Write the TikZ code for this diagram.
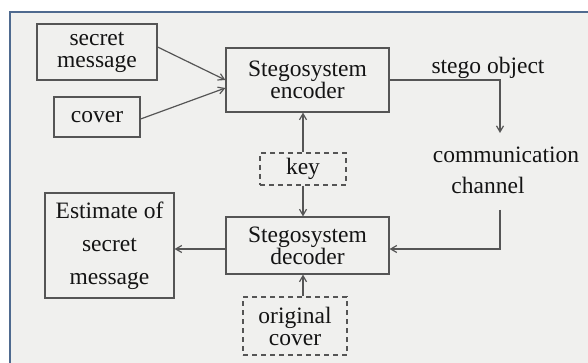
\documentclass[tikz,border=0pt]{standalone}
\usepackage{fontspec}
\setmainfont{Liberation Serif}
\usetikzlibrary{arrows.meta}
\definecolor{bgc}{HTML}{F0F0EE}
\definecolor{framec}{HTML}{4F6A8F}
\definecolor{linec}{HTML}{555555}
\definecolor{textc}{HTML}{141414}
\begin{document}
\begin{tikzpicture}[x=1pt,y=-1pt,
  box/.style={draw=linec,line width=1.2pt,text=textc,align=center,inner sep=0pt,font=\fontsize{23.5}{22}\selectfont},
  dbox/.style={box,dash pattern=on 5pt off 4pt},
  lbl/.style={text=textc,font=\fontsize{23.5}{22}\selectfont,inner sep=0pt},
  arr/.style={draw=linec,line width=1.2pt,-{Straight Barb[length=6pt,width=7pt]}},
  wire/.style={draw=linec,line width=1.2pt}]
\useasboundingbox (0,0) rectangle (588,363);
\fill[white] (0,0) rectangle (588,363);
\fill[bgc] (10,12) rectangle (588,363);
\draw[framec,line width=2pt] (10,363) -- (10,12) -- (588,12);

\node[box,minimum width=120pt,minimum height=56pt] (sec) at (97,52) {secret\\message};
\node[box,minimum width=86pt,minimum height=40pt] (cov) at (97,117) {cover};
\node[box,minimum width=163pt,minimum height=64pt] (enc) at (307.5,80) {Stegosystem\\encoder};
\node[dbox,minimum width=86pt,minimum height=32pt] (key) at (303,169) {key};
\node[box,minimum width=163pt,minimum height=57pt] (dec) at (307.5,245.5) {Stegosystem\\decoder};
\node[box,minimum width=129pt,minimum height=105pt,font=\fontsize{23.5}{33}\selectfont] (est) at (109.5,245.5) {Estimate of\\secret\\message};
\node[dbox,minimum width=104pt,minimum height=58pt] (orig) at (295,326) {original\\cover};
\node[lbl,anchor=base] (so) at (488,74) {stego object};
\node[lbl,anchor=base] (comm) at (506,163) {communication};
\node[lbl,anchor=base] (chan) at (488,194) {channel};

\coordinate (c1) at (500,80);
\coordinate (c2) at (500,133);
\coordinate (c3) at (500,210);
\coordinate (c4) at (500,249);

\draw[arr] ([yshift=5pt]sec.east) -- (enc.west);
\draw[arr] ([yshift=-2pt]cov.east) -- ([yshift=-8pt]enc.west);
\draw[arr] (key.north) -- (key.north |- enc.south);
\draw[arr] (key.south) -- (key.south |- dec.north);
\draw[arr] (orig.north -| key.south) -- (key.south |- dec.south);
\draw[arr] (enc.east) -- (c1) -- (c2);
\draw[arr] (c3) -- (c4) -- (c4 -| dec.east);
\draw[arr] (c4 -| dec.west) -- (c4 -| est.east);
\end{tikzpicture}
\end{document}
